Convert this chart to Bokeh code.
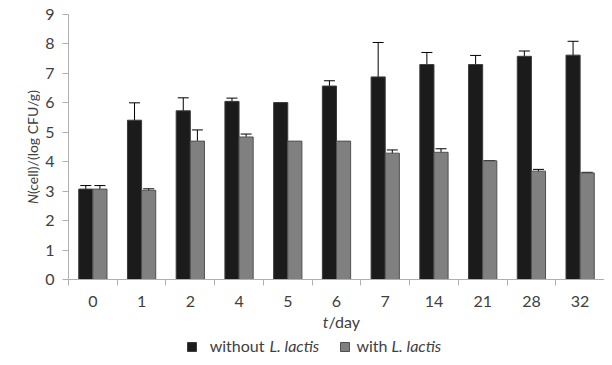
import numpy as np
from bokeh.plotting import figure
from bokeh.layouts import row, column
from bokeh.models import Range1d, FixedTicker, ColumnDataSource, Whisker, TeeHead
from bokeh.core.properties import value
from bokeh.embed import file_html
from bokeh.resources import INLINE

days = ["0", "1", "2", "4", "5", "6", "7", "14", "21", "28", "32"]
without_lactis = [3.07, 5.41, 5.73, 6.05, 6.01, 6.57, 6.88, 7.30, 7.30, 7.58, 7.62]
without_err = [0.12, 0.59, 0.44, 0.11, 0.0, 0.18, 1.17, 0.41, 0.31, 0.18, 0.47]
with_lactis = [3.07, 3.03, 4.70, 4.84, 4.70, 4.70, 4.29, 4.32, 4.03, 3.68, 3.62]
with_err = [0.12, 0.05, 0.38, 0.10, 0.0, 0.0, 0.11, 0.12, 0.01, 0.06, 0.02]
y_ticks = list(range(0, 10))
series_names = ["without", "with"]
species = "L. lactis"

FONT = "Lato"
FS = "16px"
FS_Y = "14px"
TXT = "#404040"
AX = "#b0b0b0"
C_DARK, L_DARK = "#1b1b1b", "#3c3c3c"
C_GRAY, L_GRAY = "#808080", "#505050"

W, H = 604, 357          # whole canvas
LW = 40                  # left strip holding the y title
MH = 310                 # height of the top row
FL, FT, FB = 68, 14, 279 # frame left / top / bottom in canvas px
SHIFT = 6                # svg text baseline correction

n = len(days)
centers = np.arange(n) + 0.5
bw = 0.29

def blank(w, h):
    f = figure(width=w, height=h, x_range=Range1d(0, w), y_range=Range1d(0, h),
               x_axis_type=None, y_axis_type=None, output_backend="svg", toolbar_location=None,
               min_border=0, min_border_left=0, min_border_right=0, min_border_top=0, min_border_bottom=0)
    f.outline_line_color = None
    f.xgrid.visible = False
    f.ygrid.visible = False
    return f

# ---------------- main plot ----------------
p = figure(width=W - LW, height=MH, x_range=Range1d(0, n), y_range=Range1d(0, 9),
           output_backend="svg", toolbar_location=None,
           min_border_left=FL - LW, min_border_right=0, min_border_top=FT, min_border_bottom=MH - FB)
p.outline_line_color = None
p.xgrid.visible = False
p.ygrid.visible = False

src_a = ColumnDataSource(dict(x=centers - bw / 2, top=without_lactis))
src_b = ColumnDataSource(dict(x=centers + bw / 2, top=with_lactis))
p.vbar(x="x", top="top", width=bw, source=src_a, fill_color=C_DARK, line_color=L_DARK, line_width=1)
p.vbar(x="x", top="top", width=bw, source=src_b, fill_color=C_GRAY, line_color=L_GRAY, line_width=1)

def whiskers(xs, vals, errs):
    xx, lo, hi = [], [], []
    for x, v, e in zip(xs, vals, errs):
        if e > 0:
            xx.append(x); lo.append(v - e); hi.append(v + e)
    s = ColumnDataSource(dict(x=xx, lower=lo, upper=hi))
    p.add_layout(Whisker(base="x", lower="lower", upper="upper", source=s, line_color="black", line_width=1,
                         upper_head=TeeHead(size=11, line_color="black", line_width=1),
                         lower_head=TeeHead(size=11, line_color="black", line_width=1)))

whiskers(centers - bw / 2, without_lactis, without_err)
whiskers(centers + bw / 2, with_lactis, with_err)

xa = p.xaxis[0]
xa.ticker = FixedTicker(ticks=list(centers), minor_ticks=list(np.arange(n + 1)))
xa.major_label_overrides = {float(c): d for c, d in zip(centers, days)}
xa.major_tick_out = 0
xa.major_tick_in = 0
xa.minor_tick_out = 6
xa.minor_tick_in = 0
xa.minor_tick_line_color = AX
xa.axis_line_color = AX
xa.major_label_standoff = 10
xa.major_label_text_font = FONT
xa.major_label_text_font_size = FS
xa.major_label_text_color = TXT

ya = p.yaxis[0]
ya.ticker = FixedTicker(ticks=y_ticks)
ya.major_tick_out = 6
ya.major_tick_in = 0
ya.minor_tick_out = 0
ya.minor_tick_in = 0
ya.major_tick_line_color = AX
ya.axis_line_color = AX
ya.major_label_standoff = 8
ya.major_label_text_font = FONT
ya.major_label_text_font_size = FS
ya.major_label_text_color = TXT

# ---------------- left strip: y title (canvas coords, y measured from top) ----------------
left = blank(LW, MH)
def ltxt(px_base, py, text, style, align):
    left.text(x=[px_base - SHIFT], y=[MH - py], text=[text], angle=np.pi / 2, text_font=value(FONT),
              text_font_size=FS_Y, text_font_style=style, text_align=align,
              text_baseline="alphabetic", text_color=TXT)
bx = 38
b1 = 210
ltxt(bx, b1, "N", "italic", "right")
ltxt(bx, b1, "(cell)/(log CFU/g)", "normal", "left")

# ---------------- bottom strip: x title + legend ----------------
BH = H - MH
bottom = blank(W, BH)
def btxt(px, py_base, text, style, align):
    bottom.text(x=[px], y=[H - (py_base - SHIFT)], text=[text], text_font=value(FONT),
                text_font_size=FS, text_font_style=style, text_align=align,
                text_baseline="alphabetic", text_color=TXT)

btxt(328, 327, "t", "italic", "right")
btxt(328, 327, "/day", "normal", "left")

base = 351
for (l, r), col, lc in [((187, 196), C_DARK, L_DARK), ((340, 349), C_GRAY, L_GRAY)]:
    bottom.quad(left=[l], right=[r], top=[H - (base - 9)], bottom=[H - base], fill_color=col, line_color=lc)
btxt(264, base, series_names[0], "normal", "right")
btxt(269, base, species, "italic", "left")
btxt(387, base, series_names[1], "normal", "right")
btxt(391, base, species, "italic", "left")

layout = column(row(left, p), bottom)
open("out.html", "w").write(file_html(layout, INLINE))
